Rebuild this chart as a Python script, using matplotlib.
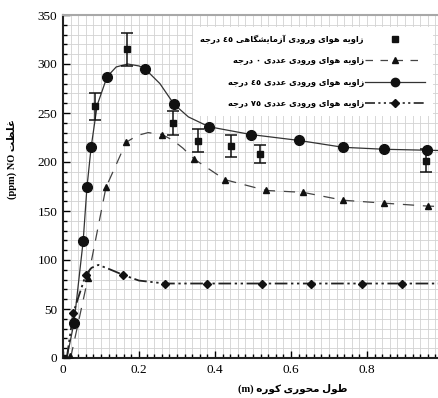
import matplotlib
matplotlib.use("Agg")
import matplotlib.pyplot as plt
from matplotlib.ticker import MultipleLocator, FuncFormatter

# --- data ---
# experimental, 45 deg (squares with error bars)
exp_x = [0.0, 0.084, 0.168, 0.289, 0.355, 0.442, 0.518, 0.955]
exp_y = [0, 257, 315, 240, 221, 216, 208, 201]
exp_lo = [0, 243, 298, 228, 210, 205, 199, 190]
exp_hi = [0, 270, 332, 252, 234, 228, 217, 213]

# numerical, 45 deg (circles, solid)
c45_x = [0.029, 0.053, 0.063, 0.074, 0.116, 0.216, 0.292, 0.384, 0.495, 0.621, 0.737, 0.845, 0.958]
c45_y = [36, 119, 174, 215, 287, 295, 259, 236, 228, 222, 215, 213, 212]
c45_line_x = [0.01, 0.029, 0.053, 0.063, 0.074, 0.09, 0.116, 0.14, 0.17, 0.2, 0.216, 0.255, 0.292, 0.33, 0.384, 0.495, 0.621, 0.737, 0.845, 0.958, 1.2]
c45_line_y = [0, 36, 119, 174, 215, 258, 287, 297, 300, 298, 295, 280, 259, 246, 236, 228, 222, 215, 213, 212, 210]

# numerical, 0 deg (triangles, dashed)
c0_x = [0.018, 0.066, 0.113, 0.166, 0.261, 0.345, 0.426, 0.534, 0.632, 0.737, 0.845, 0.96]
c0_y = [2, 82, 174, 220, 228, 203, 182, 171, 169, 161, 158, 155]
c0_line_x = [0.02, 0.066, 0.113, 0.166, 0.195, 0.224, 0.261, 0.29, 0.316, 0.345, 0.426, 0.534, 0.632, 0.737, 0.845, 0.96, 1.2]
c0_line_y = [0, 82, 174, 220, 227, 230, 228, 222, 214, 203, 182, 171, 169, 161, 158, 155, 152]

# numerical, 75 deg (diamonds, dash-dot-dot)
c75_x = [0.027, 0.06, 0.157, 0.268, 0.378, 0.523, 0.652, 0.786, 0.892]
c75_y = [46, 85, 85, 76, 76, 76, 76, 76, 76]
c75_line_x = [0.01, 0.027, 0.06, 0.075, 0.093, 0.12, 0.157, 0.2, 0.268, 0.378, 0.523, 0.652, 0.786, 0.892, 1.2]
c75_line_y = [0, 46, 85, 92, 95, 91, 85, 79, 76, 76, 76, 76, 76, 76, 76]

lab_exp = "زاویه هوای ورودی آزمایشگاهی ٤٥ درجه"
lab_0 = "زاویه هوای ورودی عددی ٠ درجه"
lab_45 = "زاویه هوای ورودی عددی ٤٥ درجه"
lab_75 = "زاویه هوای ورودی عددی ٧٥ درجه"
xlab = "طول محوری کوره (m)"
ylab = "غلظت NO (ppm)"

# --- tiny persian shaper (matplotlib has no bidi / joining) ---
FORMS = {
    'ا': ('\uFE8D', '\uFE8E', None, None),
    'آ': ('\uFE81', '\uFE82', None, None),
    'ب': ('\uFE8F', '\uFE90', '\uFE91', '\uFE92'),
    'ت': ('\uFE95', '\uFE96', '\uFE97', '\uFE98'),
    'ج': ('\uFE9D', '\uFE9E', '\uFE9F', '\uFEA0'),
    'ح': ('\uFEA1', '\uFEA2', '\uFEA3', '\uFEA4'),
    'د': ('\uFEA9', '\uFEAA', None, None),
    'ر': ('\uFEAD', '\uFEAE', None, None),
    'ز': ('\uFEAF', '\uFEB0', None, None),
    'ش': ('\uFEB5', '\uFEB6', '\uFEB7', '\uFEB8'),
    'ط': ('\uFEC1', '\uFEC2', '\uFEC3', '\uFEC4'),
    'ظ': ('\uFEC5', '\uFEC6', '\uFEC7', '\uFEC8'),
    'ع': ('\uFEC9', '\uFECA', '\uFECB', '\uFECC'),
    'غ': ('\uFECD', '\uFECE', '\uFECF', '\uFED0'),
    'ل': ('\uFEDD', '\uFEDE', '\uFEDF', '\uFEE0'),
    'م': ('\uFEE1', '\uFEE2', '\uFEE3', '\uFEE4'),
    'ن': ('\uFEE5', '\uFEE6', '\uFEE7', '\uFEE8'),
    'ه': ('\uFEE9', '\uFEEA', '\uFEEB', '\uFEEC'),
    'و': ('\uFEED', '\uFEEE', None, None),
    'ی': ('\uFBFC', '\uFBFD', '\uFBFE', '\uFBFF'),
    'ک': ('\uFB8E', '\uFB8F', '\uFB90', '\uFB91'),
    'گ': ('\uFB92', '\uFB93', '\uFB94', '\uFB95'),
}


def shape(w):
    res = []
    for i, c in enumerate(w):
        if c not in FORMS:
            res.append(c)
            continue
        iso, fin, ini, med = FORMS[c]
        prev = w[i - 1] if i > 0 else None
        nxt = w[i + 1] if i + 1 < len(w) else None
        pj = prev in FORMS and FORMS[prev][2] is not None
        nj = nxt in FORMS and ini is not None
        if pj and nj:
            res.append(med)
        elif pj:
            res.append(fin)
        elif nj:
            res.append(ini)
        else:
            res.append(iso)
    return ''.join(res)


def rtl(s):
    out = []
    for w in s.split(' '):
        if any(c in FORMS for c in w):
            out.append(shape(w)[::-1])
        else:
            out.append(w)
    return ' '.join(out[::-1])


def xfmt(v, pos):
    if v > 0.9:
        return ''
    return "%g" % round(v, 2)


fig = plt.figure(figsize=(4.39, 3.98), dpi=100)
# axes run to x=1.2, the right part falls outside the picture like the original crop
ax = fig.add_axes([63 / 439, 1 - 358 / 398, 456 / 439, 343 / 398])

ax.set_xlim(0, 1.2)
ax.set_ylim(0, 350)
ax.xaxis.set_major_locator(MultipleLocator(0.2))
ax.xaxis.set_minor_locator(MultipleLocator(0.02))
ax.yaxis.set_major_locator(MultipleLocator(50))
ax.yaxis.set_minor_locator(MultipleLocator(10))
ax.xaxis.set_major_formatter(FuncFormatter(xfmt))

ax.grid(which='both', color='#d2d2d2', lw=0.6, zorder=0)
ax.set_axisbelow(True)

ax.tick_params(which='both', direction='in', top=False, right=False, width=1)
ax.tick_params(which='major', length=5, labelsize=9.5, pad=4)
ax.tick_params(which='minor', length=3)
for lbl in ax.get_xticklabels() + ax.get_yticklabels():
    lbl.set_family('Liberation Serif')

for s in ['left', 'bottom']:
    ax.spines[s].set_linewidth(1.5)
    ax.spines[s].set_color('#222222')
ax.spines['top'].set_color('#a8a8a8')
ax.spines['top'].set_linewidth(1.5)
ax.spines['right'].set_visible(False)

# lines
ax.plot(c45_line_x, c45_line_y, color='#333333', lw=0.9, zorder=3)
ax.plot(c0_line_x, c0_line_y, color='#444444', lw=0.9, dashes=(9, 7), zorder=3)
ax.plot(c75_line_x, c75_line_y, color='#222222', lw=1.3, dashes=(7, 2, 1.3, 2, 1.3, 2), zorder=3)

# markers
ax.errorbar(exp_x, exp_y, yerr=[[y - l for y, l in zip(exp_y, exp_lo)], [h - y for y, h in zip(exp_y, exp_hi)]],
            fmt='none', ecolor='#111111', elinewidth=1.1, capsize=4.5, capthick=1.1, zorder=4)
ax.plot(exp_x, exp_y, 's', color='#111111', ms=5, ls='none', zorder=5)
ax.plot(c45_x, c45_y, 'o', color='#111111', ms=7, ls='none', zorder=5)
ax.plot(c0_x, c0_y, '^', color='#111111', ms=5, ls='none', zorder=5)
ax.plot(c75_x, c75_y, 'D', color='#111111', ms=4.5, ls='none', zorder=5)

# legend proxies
h_leg_exp, = ax.plot([], [], 's', color='#111111', ms=4.5, ls='none')
h0, = ax.plot([], [], color='#444444', lw=0.9, dashes=(6, 6), marker='^', ms=4.5, mfc='#111111', mec='#111111')
h45, = ax.plot([], [], color='#333333', lw=0.9, marker='o', ms=6, mfc='#111111', mec='#111111')
h75, = ax.plot([], [], color='#222222', lw=1.2, dashes=(6, 2, 1.3, 2, 1.3, 2), marker='D', ms=4,
               mfc='#111111', mec='#111111')

leg = ax.legend([h_leg_exp, h0, h45, h75], [rtl(lab_exp), rtl(lab_0), rtl(lab_45), rtl(lab_75)],
                loc='upper right', bbox_to_anchor=(433 / 439, 1 - 27 / 398), bbox_transform=fig.transFigure,
                markerfirst=False, handlelength=7.2, handletextpad=0.2, labelspacing=1.5,
                borderpad=0.9, borderaxespad=0, fancybox=False, framealpha=1,
                facecolor='white', edgecolor='none',
                prop={'family': 'DejaVu Sans', 'size': 6.0, 'weight': 'bold'})
leg.set_zorder(10)

ax.set_xlabel(rtl(xlab), family=['Liberation Serif', 'DejaVu Sans'], fontsize=7.5, fontweight='bold')
ax.xaxis.set_label_coords(0.504, -0.076)
ax.set_ylabel(rtl(ylab), family=['Liberation Serif', 'DejaVu Sans'], fontsize=7.5, fontweight='bold')
ax.yaxis.set_label_coords(-0.101, 0.58)

fig.savefig('out.png', dpi=100)
